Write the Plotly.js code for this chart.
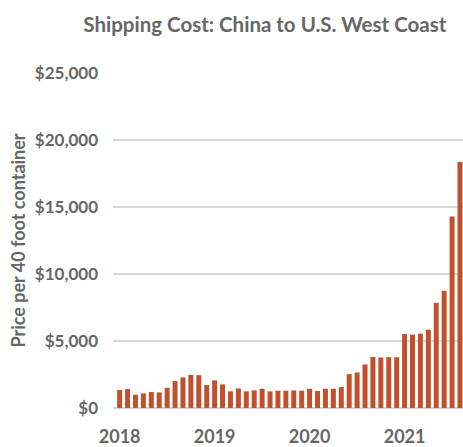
<!DOCTYPE html>
<html>
<head>
<meta charset="utf-8">
<script src="https://cdn.plot.ly/plotly-3.0.1.min.js"></script>
<style>html,body{margin:0;padding:0;background:#fff;}#chart{width:463px;height:447px;}</style>
</head>
<body>
<div id="chart"></div>
<script>
// Monthly data, Jan 2018 - Aug 2021 (USD per 40 ft container)
const months = [
  "2018-01","2018-02","2018-03","2018-04","2018-05","2018-06","2018-07","2018-08","2018-09","2018-10","2018-11","2018-12",
  "2019-01","2019-02","2019-03","2019-04","2019-05","2019-06","2019-07","2019-08","2019-09","2019-10","2019-11","2019-12",
  "2020-01","2020-02","2020-03","2020-04","2020-05","2020-06","2020-07","2020-08","2020-09","2020-10","2020-11","2020-12",
  "2021-01","2021-02","2021-03","2021-04","2021-05","2021-06","2021-07","2021-08"
];
const prices = [
  1340,1410,990,1090,1190,1165,1510,2005,2280,2475,2450,1710,
  2060,1760,1240,1460,1240,1315,1435,1240,1290,1290,1315,1290,
  1435,1265,1435,1435,1560,2525,2650,3250,3815,3765,3790,3790,
  5520,5475,5550,5845,7850,8745,14290,18350
];
const yearTicks = ["2018-01","2019-01","2020-01","2021-01"];
const yearLabels = ["2018","2019","2020","2021"];
const yTicks = [0,5000,10000,15000,20000,25000];
const yTickLabels = ["$0","$5,000","$10,000","$15,000","$20,000","$25,000"];

const xIdx = months.map((m,i)=>i);
const tickIdx = yearTicks.map(t=>months.indexOf(t));

const gray = "#666666";
const fontFam = "Lato, 'Open Sans', sans-serif";

Plotly.newPlot("chart", [{
  type: "bar",
  x: xIdx,
  y: prices,
  text: months,
  hoverinfo: "text+y",
  textposition: "none",
  marker: {color: "#C1502B", line: {width: 0}}
}], {
  width: 463, height: 447,
  margin: {l: 113, r: 0, t: 73, b: 39},
  paper_bgcolor: "#fff", plot_bgcolor: "#fff",
  bargap: 0.37,
  showlegend: false,
  title: {
    text: "<b>Shipping Cost: China to U.S. West Coast</b>",
    font: {family: fontFam, size: 20.5, color: gray},
    x: 0.572, xanchor: "center", y: 0.945, yanchor: "middle"
  },
  xaxis: {
    range: [-0.84, 43.38],
    tickmode: "array", tickvals: tickIdx, ticktext: yearLabels,
    showgrid: false, zeroline: false,
    showline: false, ticks: "",
    tickfont: {family: fontFam, size: 18, color: gray, weight: "bold"},
    ticklabelstandoff: 16
  },
  yaxis: {
    range: [0, 25000],
    tickmode: "array", tickvals: yTicks, ticktext: yTickLabels,
    showgrid: true, gridcolor: "#D9D9D9", gridwidth: 1.3,
    zeroline: true, zerolinecolor: "#D9D9D9", zerolinewidth: 1.3,
    showline: false, ticks: "",
    tickfont: {family: fontFam, size: 17, color: gray, weight: "bold"},
    ticklabelstandoff: 14,
    title: {
      text: "<b>Price per 40 foot container</b>",
      font: {family: fontFam, size: 18, color: gray},
      standoff: 4
    }
  }
}, {displayModeBar: false, staticPlot: true});
</script>
</body>
</html>
